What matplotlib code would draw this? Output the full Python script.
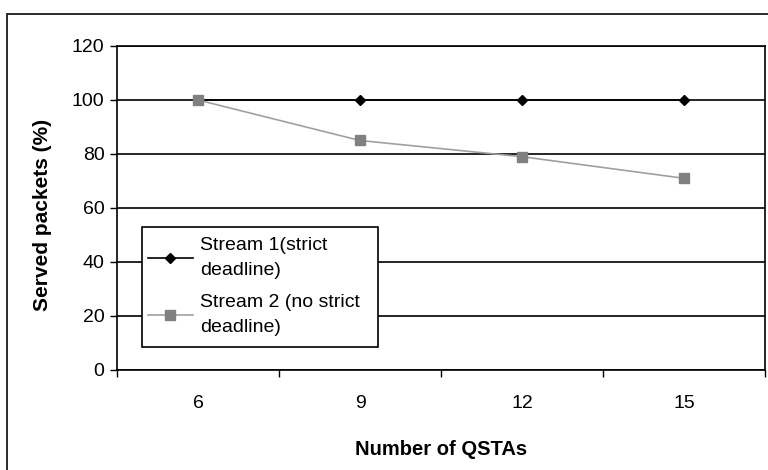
import matplotlib
matplotlib.use("Agg")
import matplotlib.pyplot as plt
from matplotlib.patches import Rectangle

plt.rcParams['font.family'] = ['Liberation Sans', 'DejaVu Sans']

categories = ["6", "9", "12", "15"]
stream1 = [100, 100, 100, 100]
stream2 = [100, 85, 79, 71]
y_ticks = [0, 20, 40, 60, 80, 100, 120]

W, H = 768, 470
fig = plt.figure(figsize=(W / 100, H / 100), dpi=100)

# outer chart frame
fig.patches.append(Rectangle((7 / W, -0.05), 1.0, 1 - 14 / H + 0.05,
                             transform=fig.transFigure, fill=False,
                             edgecolor="#1a1a1a", linewidth=1.3))

ax = fig.add_axes([117 / W, 1 - 370 / H, (765 - 117) / W, (370 - 46) / H])
x = list(range(len(categories)))

ax.plot(x, stream1, color="black", linewidth=1.2, marker="D", markersize=5.5,
        markerfacecolor="black", markeredgecolor="black",
        label="Stream 1(strict\ndeadline)", zorder=3)
ax.plot(x, stream2, color="#a0a0a0", linewidth=1.2, marker="s", markersize=7,
        markerfacecolor="#808080", markeredgecolor="#808080",
        label="Stream 2 (no strict\ndeadline)", zorder=4)

ax.set_ylim(0, 120)
ax.set_xlim(-0.5, len(categories) - 0.5)
ax.set_yticks(y_ticks)
ax.yaxis.grid(True, color="black", linewidth=1.2)
ax.set_axisbelow(True)

ax.set_xticks(x)
ax.set_xticklabels(categories)
ax.set_xticks([i - 0.5 for i in range(len(categories) + 1)], minor=True)
ax.tick_params(axis="x", which="major", length=0, pad=18, labelsize=14)
ax.tick_params(axis="x", which="minor", length=5, width=1, direction="out")
ax.tick_params(axis="y", length=5, width=1, direction="out", labelsize=14, pad=4)

for s in ax.spines.values():
    s.set_color("black")
    s.set_linewidth(1.2)

ax.set_ylabel("Served packets (%)", fontsize=15, fontweight="bold")
ax.yaxis.set_label_coords(-0.100, 0.478)
ax.set_xlabel("Number of QSTAs", fontsize=14.5, fontweight="bold", labelpad=20)

# legend box drawn as a plain rectangle, legend contents without frame
ax.add_patch(Rectangle((142 / W, 1 - 347 / H), (378 - 142) / W, (347 - 227) / H,
                       transform=fig.transFigure, facecolor="white",
                       edgecolor="black", linewidth=1.2, zorder=5,
                       clip_on=False))
leg = ax.legend(loc="upper left", bbox_to_anchor=(148 / W, 1 - 237 / H),
                bbox_transform=fig.transFigure, fontsize=14, frameon=False,
                handlelength=2.3, handletextpad=0.4, borderpad=0,
                labelspacing=0.8, borderaxespad=0)
leg.set_zorder(6)
for t in leg.get_texts():
    t.set_linespacing(1.6)

fig.savefig("out.png", dpi=100, facecolor="white")
